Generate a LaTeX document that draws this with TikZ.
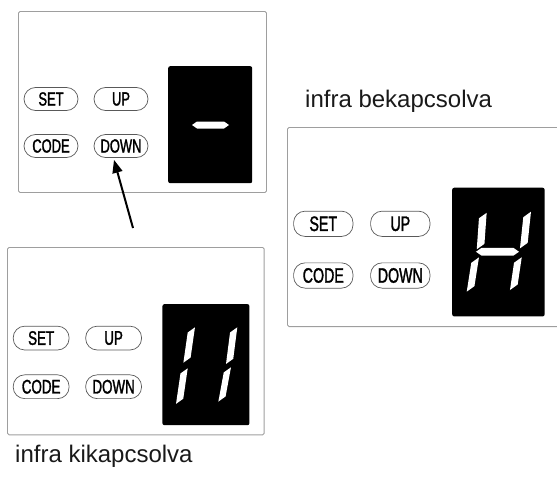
\documentclass[tikz,border=0pt]{standalone}
\usepackage{fontspec}
\setmainfont{Liberation Sans}
\newfontfamily\keyfont[FakeStretch=0.68,FakeBold=1.5]{Liberation Sans}
\usetikzlibrary{arrows.meta}
% slanted upright segment: top right tip, bottom left tip
\newcommand\vseg[4]{\fill[white] (#1,#2) -- (#3+7,#4-5) -- (#3,#4) -- (#1-7,#2+5) -- cycle;}
% flat middle segment: left, right, height
\newcommand\hseg[3]{\fill[white] (#1,#3) -- (#1+5,#3-3.5) -- (#2-5,#3-3.5) -- (#2,#3) -- (#2-5,#3+3.5) -- (#1+5,#3+3.5) -- cycle;}
\begin{document}
\begin{tikzpicture}[x=1pt,y=-1pt]
  \tikzstyle{every node}=[inner sep=0pt]
  \tikzstyle{panel}=[draw=black!38, line width=0.9pt, rounded corners=1.5pt, minimum width=248pt, minimum height=181pt, anchor=north west]
  \tikzstyle{screen}=[fill=black, rounded corners=2pt, minimum width=84pt, minimum height=117pt, anchor=north west]
  \tikzstyle{key}=[draw=black!65, line width=0.7pt, rounded corners=11.5pt, minimum width=54pt, minimum height=23pt, font=\keyfont\fontsize{19}{19}\selectfont]
  \tikzstyle{caption}=[font=\fontsize{24}{28}\selectfont, text=black!90, anchor=base west]
  \useasboundingbox (0,0) rectangle (557,479);
  \clip (0,0) rectangle (557,479);
  % panel after the switch
  \begin{scope}[shift={(18,11)}, transform shape]
    \node[panel] (p1) at (0,0) {};
    \node[screen] (d1) at (150,55) {};
    \node[key] (set1) at (33,88) {SET};
    \node[key] (up1) at (103,88) {UP};
    \node[key] (code1) at (33,135) {CODE};
    \node[key] (down1) at (103,135) {DOWN};
    \hseg{174}{211}{114}
  \end{scope}
  % infra on
  \begin{scope}[shift={(287,127)}, scale=1.1, transform shape]
    \node[panel] (p2) at (0,0) {};
    \node[screen] (d2) at (150,55) {};
    \node[key] (set2) at (33,88) {SET};
    \node[key] (up2) at (103,88) {UP};
    \node[key] (code2) at (33,135) {CODE};
    \node[key] (down2) at (103,135) {DOWN};
    \vseg{181.5}{78}{172.5}{111.2}
    \vseg{174.5}{118.5}{163.4}{149.7}
    \vseg{221.8}{77}{211.8}{110.3}
    \vseg{213.4}{118.4}{202.7}{148.2}
    \hseg{171.8}{210.9}{113.4}
  \end{scope}
  % infra off
  \begin{scope}[shift={(7,247)}, scale=1.035, transform shape]
    \node[panel] (p3) at (0,0) {};
    \node[screen] (d3) at (150,55) {};
    \node[key] (set3) at (33,88) {SET};
    \node[key] (up3) at (103,88) {UP};
    \node[key] (code3) at (33,135) {CODE};
    \node[key] (down3) at (103,135) {DOWN};
    \vseg{181.6}{77.6}{170.4}{111.8}
    \vseg{174.6}{117.2}{163.3}{151.6}
    \vseg{222.5}{77.6}{211.6}{113}
    \vseg{216.4}{116.2}{204.2}{149.4}
  \end{scope}
  \node[caption] (on) at (305,107) {infra bekapcsolva};
  \node[caption] (off) at (15,462) {infra kikapcsolva};
  \coordinate (tail) at (133,228);
  \draw[line width=2pt, -{Triangle[length=13pt,width=10pt]}] (tail) -- ([xshift=-7pt,yshift=-2pt]down1.south);
\end{tikzpicture}
\end{document}
